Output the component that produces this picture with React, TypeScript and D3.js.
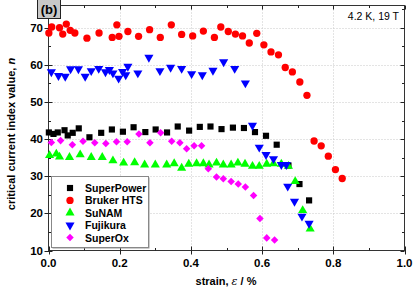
import { useEffect, useRef } from 'react'
import * as d3 from 'd3'

const superPowerStrain = [0.001, 0.014, 0.026, 0.045, 0.054, 0.068, 0.085, 0.115, 0.148, 0.178, 0.209, 0.239, 0.272, 0.301, 0.333, 0.363, 0.395, 0.425, 0.455, 0.486, 0.518, 0.549, 0.58, 0.611, 0.641, 0.674, 0.705, 0.732]
const superPowerN = [41.8, 41.4, 41.8, 42.4, 41.0, 41.7, 42.9, 40.5, 41.7, 42.6, 42.0, 43.2, 41.9, 42.6, 41.8, 43.4, 42.3, 43.3, 43.4, 42.7, 43.1, 43.0, 41.9, 40.9, 38.5, 32.9, 27.9, 23.5]

const brukerStrain = [0.001, 0.009, 0.031, 0.04, 0.05, 0.061, 0.074, 0.108, 0.142, 0.179, 0.192, 0.198, 0.223, 0.253, 0.284, 0.314, 0.345, 0.374, 0.405, 0.435, 0.466, 0.484, 0.505, 0.525, 0.545, 0.564, 0.585, 0.605, 0.625, 0.646, 0.665, 0.685, 0.706, 0.726, 0.746, 0.766, 0.786, 0.806, 0.825]
const brukerN = [68.6, 70.2, 70.0, 68.3, 71.0, 69.3, 68.6, 67.2, 68.6, 67.4, 70.8, 67.7, 69.0, 67.7, 69.5, 67.4, 70.8, 68.2, 67.8, 69.1, 67.4, 70.2, 69.0, 68.3, 67.8, 65.9, 68.5, 65.4, 63.5, 62.7, 59.3, 58.1, 55.4, 51.8, 39.5, 38.2, 35.4, 31.8, 29.4]

const suNamStrain = [0.003, 0.022, 0.031, 0.059, 0.089, 0.12, 0.151, 0.181, 0.211, 0.242, 0.27, 0.3, 0.332, 0.353, 0.374, 0.394, 0.416, 0.435, 0.451, 0.472, 0.491, 0.513, 0.532, 0.552, 0.573, 0.592, 0.613, 0.632, 0.654, 0.674, 0.693, 0.714, 0.735]
const suNamN = [35.6, 36.0, 35.2, 35.1, 35.8, 35.1, 35.1, 34.2, 33.6, 33.7, 33.1, 33.1, 33.1, 33.4, 32.2, 33.3, 33.4, 33.4, 33.1, 33.6, 33.1, 33.1, 33.6, 33.3, 32.7, 32.7, 33.3, 33.4, 33.3, 32.7, 28.6, 20.8, 15.8]

const fujikuraStrain = [0.008, 0.028, 0.047, 0.062, 0.084, 0.103, 0.12, 0.141, 0.16, 0.171, 0.181, 0.197, 0.208, 0.217, 0.223, 0.251, 0.282, 0.313, 0.343, 0.374, 0.402, 0.432, 0.462, 0.492, 0.523, 0.553, 0.573, 0.592, 0.611, 0.632, 0.654, 0.668, 0.672, 0.691, 0.712, 0.732]
const fujikuraN = [58.1, 57.1, 56.9, 58.9, 58.9, 56.9, 58.4, 59.0, 58.1, 58.7, 57.8, 56.4, 58.2, 57.3, 59.6, 57.8, 62.0, 58.4, 59.3, 59.0, 57.6, 57.3, 58.5, 60.8, 59.0, 55.1, 43.7, 37.8, 35.8, 34.7, 33.1, 33.1, 27.3, 23.2, 19.2, 17.3]

const superOxStrain = [0.008, 0.034, 0.067, 0.097, 0.13, 0.161, 0.191, 0.221, 0.254, 0.285, 0.315, 0.346, 0.369, 0.388, 0.409, 0.43, 0.449, 0.472, 0.491, 0.513, 0.533, 0.553, 0.576, 0.594, 0.613, 0.635]
const superOxN = [39.1, 39.6, 38.5, 39.4, 39.0, 38.8, 39.3, 39.3, 41.4, 39.0, 41.7, 39.4, 39.0, 37.4, 38.2, 38.2, 32.0, 29.8, 29.3, 28.6, 27.9, 27.1, 24.8, 18.6, 13.4, 12.8]

const series = [
  { name: 'SuperPower', x: superPowerStrain, y: superPowerN, color: '#000000', symbol: d3.symbolSquare, size: 38, rot: 0 },
  { name: 'Bruker HTS', x: brukerStrain, y: brukerN, color: '#ff0000', symbol: d3.symbolCircle, size: 42, rot: 0 },
  { name: 'SuNAM', x: suNamStrain, y: suNamN, color: '#00ff00', symbol: d3.symbolTriangle, size: 36, rot: 0 },
  { name: 'Fujikura', x: fujikuraStrain, y: fujikuraN, color: '#0000ff', symbol: d3.symbolTriangle, size: 36, rot: 180 },
  { name: 'SuperOx', x: superOxStrain, y: superOxN, color: '#ff00ff', symbol: d3.symbolDiamond2, size: 36, rot: 0 },
]

const xTicks = [0, 0.2, 0.4, 0.6, 0.8, 1.0]
const yTicks = [10, 20, 30, 40, 50, 60, 70]

export default function App() {
  const ref = useRef<HTMLDivElement>(null)

  useEffect(() => {
    const width = 415
    const height = 290
    const font = "'Liberation Sans', Arial, sans-serif"

    d3.select(ref.current).selectAll('svg').remove()

    const svg = d3
      .select(ref.current)
      .append('svg')
      .attr('width', width)
      .attr('height', height)
      .style('display', 'block')
      .style('font-family', font)

    const x = d3.scaleLinear().domain([0, 1]).range([48.5, 404.5])
    const y = d3.scaleLinear().domain([10, 76]).range([250.5, 5.5])

    // grid
    svg
      .selectAll('.gx')
      .data(xTicks.slice(1, -1))
      .enter()
      .append('line')
      .attr('x1', (d) => Math.round(x(d)) + 0.5)
      .attr('x2', (d) => Math.round(x(d)) + 0.5)
      .attr('y1', y.range()[0])
      .attr('y2', y.range()[1])
      .attr('stroke', '#c8c8c8')
      .attr('stroke-dasharray', '1,2')
    svg
      .selectAll('.gy')
      .data(yTicks.slice(1))
      .enter()
      .append('line')
      .attr('x1', x.range()[0])
      .attr('x2', x.range()[1])
      .attr('y1', (d) => Math.round(y(d)) + 0.5)
      .attr('y2', (d) => Math.round(y(d)) + 0.5)
      .attr('stroke', '#c8c8c8')
      .attr('stroke-dasharray', '1,2')

    // frame
    svg
      .append('rect')
      .attr('x', x.range()[0])
      .attr('y', y.range()[1])
      .attr('width', x.range()[1] - x.range()[0])
      .attr('height', y.range()[0] - y.range()[1])
      .attr('fill', 'none')
      .attr('stroke', '#333')

    const tick = svg.append('g').attr('stroke', '#222')
    // x ticks bottom & top
    d3.range(0, 1.001, 0.1).forEach((v, i) => {
      const px = Math.round(x(v)) + 0.5
      const major = i % 2 === 0
      tick.append('line').attr('x1', px).attr('x2', px)
        .attr('y1', y.range()[0] + (major ? 4 : 0)).attr('y2', y.range()[0] - (major ? 4 : 2.5))
      tick.append('line').attr('x1', px).attr('x2', px)
        .attr('y1', y.range()[1]).attr('y2', y.range()[1] + (major ? 4 : 2.5))
    })
    d3.range(10, 76, 5).forEach((v, i) => {
      const py = Math.round(y(v)) + 0.5
      const major = i % 2 === 0
      tick.append('line').attr('y1', py).attr('y2', py)
        .attr('x1', x.range()[0] - (major ? 4 : 0)).attr('x2', x.range()[0] + (major ? 4 : 2.5))
      tick.append('line').attr('y1', py).attr('y2', py)
        .attr('x1', x.range()[1]).attr('x2', x.range()[1] - (major ? 4 : 2.5))
    })

    svg
      .selectAll('.xl')
      .data(xTicks)
      .enter()
      .append('text')
      .attr('x', (d) => x(d))
      .attr('y', 267)
      .attr('text-anchor', 'middle')
      .style('font-size', '11.5px')
      .style('font-weight', 700)
      .text((d) => d.toFixed(1))

    svg
      .selectAll('.yl')
      .data(yTicks)
      .enter()
      .append('text')
      .attr('x', 43)
      .attr('y', (d) => y(d) + 4)
      .attr('text-anchor', 'end')
      .style('font-size', '11.5px')
      .style('font-weight', 700)
      .text((d) => d)

    // axis titles
    const xt = svg
      .append('text')
      .attr('x', 226)
      .attr('y', 285)
      .attr('text-anchor', 'middle')
      .style('font-size', '11px')
      .style('font-weight', 700)
    xt.append('tspan').text('strain, ')
    xt.append('tspan').text('ε').style('font-style', 'italic').style('font-weight', 400).style('font-family', 'DejaVu Serif, serif')
    xt.append('tspan').text(' / %')

    const yt = svg
      .append('text')
      .attr('transform', 'translate(15,134) rotate(-90)')
      .attr('text-anchor', 'middle')
      .style('font-size', '11px')
      .style('font-weight', 700)
    yt.append('tspan').text('critical current index value, ')
    yt.append('tspan').text('n').style('font-style', 'italic')

    // data points
    series.forEach((s) => {
      const sym = d3.symbol().type(s.symbol).size(s.size)
      svg
        .append('g')
        .selectAll('path')
        .data(s.x.map((v, i) => [v, s.y[i]]))
        .enter()
        .append('path')
        .attr('d', sym)
        .attr('transform', (d) => `translate(${x(d[0])},${y(d[1])}) rotate(${s.rot})`)
        .attr('fill', s.color)
    })

    // legend
    const lg = svg.append('g').attr('transform', 'translate(51,176)')
    lg.append('rect').attr('x', 1.5).attr('y', 1.5).attr('width', 97).attr('height', 71).attr('fill', '#999')
    lg.append('rect').attr('x', 0.5).attr('y', 0.5).attr('width', 97).attr('height', 71)
      .attr('fill', '#fff').attr('stroke', '#888')
    series.forEach((s, i) => {
      const row = lg.append('g').attr('transform', `translate(19,${12 + i * 12.4})`)
      row.append('path').attr('d', d3.symbol().type(s.symbol).size(s.size)).attr('transform', `rotate(${s.rot})`).attr('fill', s.color)
      row.append('text').attr('x', 15).attr('y', 4).style('font-size', '10.5px').style('font-weight', 700).text(s.name)
    })

    // panel tag
    svg.append('rect').attr('x', 37.5).attr('y', -1).attr('width', 23).attr('height', 19.5)
      .attr('fill', '#c8c8c8').attr('stroke', '#222')
    svg.append('text').attr('x', 49).attr('y', 14).attr('text-anchor', 'middle')
      .style('font-size', '13px').style('font-weight', 700).text('(b)')

    svg.append('text').attr('x', 399).attr('y', 20).attr('text-anchor', 'end')
      .style('font-size', '10.5px').text('4.2 K, 19 T')
  }, [])

  return <div ref={ref} style={{ position: 'absolute', left: 0, top: 0 }}></div>
}
